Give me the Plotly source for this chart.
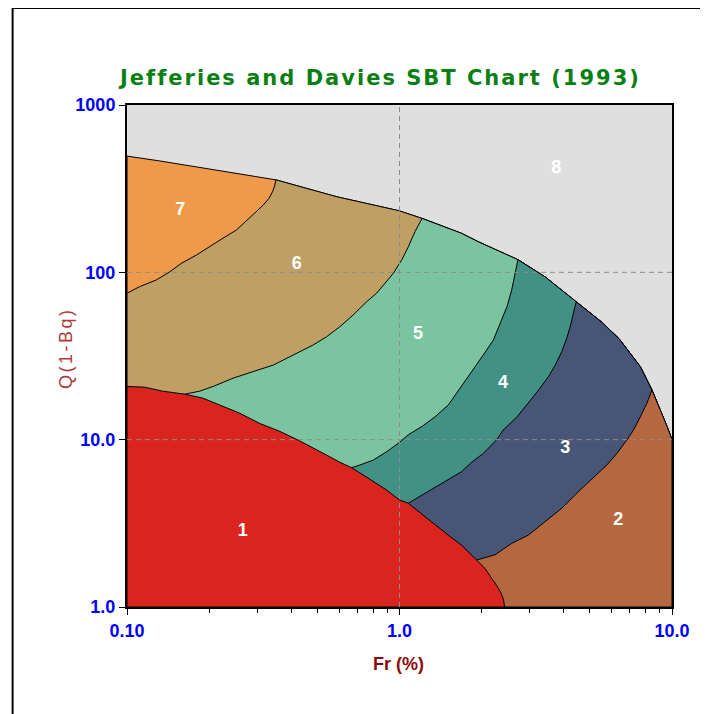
import plotly.graph_objects as go

# ---- data (Fr in %, Q(1-Bq)) ----
# upper limit of the chart (boundary with zone 8)
outer_fr = [0.1, 0.132, 0.219, 0.352, 0.588, 1.0, 1.21, 1.69, 1.95, 2.24, 2.72, 3.42, 4.45,
            5.57, 6.40, 7.65, 8.44, 9.06, 9.59, 10.0]
outer_q = [495, 463, 405, 357, 283, 233, 210, 171, 152, 137, 119, 94, 66.7,
           49.8, 40.0, 27.3, 19.8, 15.0, 12.0, 10.0]

# zone 7 / zone 6
b76_fr = [0.352, 0.348, 0.342, 0.332, 0.316, 0.294, 0.275, 0.252, 0.225, 0.201, 0.180, 0.158,
          0.144, 0.128, 0.111, 0.1]
b76_q = [357, 328, 303, 277, 252, 225, 204, 179, 160, 142, 127, 113, 101, 90, 82, 75]

# zone 6 / zone 5
b65_fr = [1.21, 1.14, 1.077, 1.02, 0.949, 0.897, 0.824, 0.758, 0.676, 0.604, 0.540, 0.482,
          0.419, 0.344, 0.290, 0.245, 0.207, 0.185, 0.163]
b65_q = [210, 175, 142, 119, 98.6, 88, 75, 66.8, 55.6, 47.3, 41.2, 36.8,
         32.8, 27.9, 25.5, 23.3, 20.8, 19.5, 18.7]

# zone 5 / zone 4
b54_fr = [2.72, 2.67, 2.62, 2.58, 2.48, 2.34, 2.21, 2.03, 1.82, 1.69, 1.51, 1.35,
          1.21, 1.077, 1.0, 0.897, 0.801, 0.716, 0.667]
b54_q = [119, 103, 85.9, 78.3, 62.4, 49.5, 39.4, 32.1, 24.9, 21.2, 16.1, 13.7,
         12.0, 10.7, 9.64, 8.47, 7.55, 7.06, 6.80]

# zone 4 / zone 3
b43_fr = [4.45, 4.35, 4.23, 4.11, 3.94, 3.73, 3.52, 3.24, 2.97, 2.70, 2.40, 2.27, 2.03, 1.82,
          1.69, 1.47, 1.28, 1.077]
b43_q = [66.7, 56.9, 47.3, 40.4, 33.6, 27.9, 23.8, 19.8, 16.5, 13.7, 11.4, 9.96, 8.28, 7.22,
         6.44, 5.61, 4.89, 4.17]

# zone 3 / zone 2
b32_fr = [8.44, 8.09, 7.65, 7.22, 6.83, 6.28, 5.77, 4.67, 3.94, 3.42, 2.97, 2.58, 2.24, 1.92]
b32_q = [19.8, 16.5, 13.7, 11.4, 9.96, 8.28, 7.06, 5.12, 3.89, 3.24, 2.69, 2.40, 2.05, 1.91]

# upper limit of zone 1
b1_fr = [0.1, 0.116, 0.135, 0.163, 0.190, 0.219, 0.259, 0.307, 0.364, 0.431, 0.482, 0.540,
         0.604, 0.667, 0.736, 0.801, 0.897, 1.0, 1.077, 1.21, 1.35, 1.51, 1.69, 1.92, 2.06,
         2.18, 2.27, 2.36, 2.41, 2.43]
b1_q = [20.8, 20.6, 19.5, 18.7, 17.7, 16.1, 14.4, 12.5, 11.2, 9.82, 8.87, 8.09,
        7.33, 6.80, 6.15, 5.61, 5.00, 4.36, 4.17, 3.58, 3.09, 2.69, 2.34, 1.91, 1.70,
        1.48, 1.35, 1.21, 1.10, 1.0]

zone_names = ["1", "2", "3", "4", "5", "6", "7", "8"]
label_fr = [0.266, 6.35, 4.06, 2.40, 1.17, 0.420, 0.157, 3.76]
label_q = [2.81, 3.27, 8.9, 21.8, 42.8, 111, 233, 415]

zone_colors = {
    "1": "#D9251D", "2": "#B5673F", "3": "#475677", "4": "#419184",
    "5": "#7AC49F", "6": "#BF9F63", "7": "#EF9A4A", "8": "#DFDFDF",
}

x_tickvals = [0.1, 1, 10]
x_ticktext = ["0.10", "1.0", "10.0"]
x_minor = [0.2, 0.3, 0.4, 0.5, 0.6, 0.7, 0.8, 0.9, 2, 3, 4, 5, 6, 7, 8, 9]
y_tickvals = [1, 10, 100, 1000]
y_ticktext = ["1.0", "10.0", "100", "1000"]

XMIN, XMAX, YMIN, YMAX = 0.1, 10.0, 1.0, 1000.0

fig = go.Figure()


def add_poly(xs, ys, color):
    fig.add_trace(go.Scatter(
        x=xs + [xs[0]], y=ys + [ys[0]], mode="lines", fill="toself",
        fillcolor=color, line=dict(color="black", width=1),
        hoverinfo="skip", showlegend=False))


def layer(bfr, bq):
    # region to the right of / below a boundary, down to the bottom axis
    ofr = [f for f in outer_fr if f >= bfr[0]][::-1]
    oq = [q for f, q in zip(outer_fr, outer_q) if f >= bfr[0]][::-1]
    xs = list(bfr) + [bfr[-1], XMAX] + ofr
    ys = list(bq) + [YMIN, YMIN] + oq
    return xs, ys


# zone 7 : whole area below the outer boundary
add_poly(list(outer_fr) + [XMAX, XMIN], list(outer_q) + [YMIN, YMIN], zone_colors["7"])
for bfr, bq, z in [(b76_fr, b76_q, "6"), (b65_fr, b65_q, "5"), (b54_fr, b54_q, "4"),
                   (b43_fr, b43_q, "3"), (b32_fr, b32_q, "2")]:
    xs, ys = layer(bfr, bq)
    add_poly(xs, ys, zone_colors[z])
# zone 1
add_poly([XMIN] + b1_fr, [YMIN] + b1_q, zone_colors["1"])

# dashed grid lines at the inner major ticks, drawn over the zones
gx, gy = [], []
for v in x_tickvals[1:-1]:
    gx += [v, v, None]
    gy += [YMIN, YMAX, None]
for v in y_tickvals[1:-1]:
    gx += [XMIN, XMAX, None]
    gy += [v, v, None]
fig.add_trace(go.Scatter(x=gx, y=gy, mode="lines",
                         line=dict(color="#8C8C8C", width=1, dash="5px,4px"),
                         hoverinfo="skip", showlegend=False))

fig.add_trace(go.Scatter(
    x=label_fr, y=label_q, mode="text", text=zone_names,
    textfont=dict(family="Liberation Sans", size=18, color="white", weight="bold"),
    hoverinfo="skip", showlegend=False))

axis_common = dict(
    type="log", showline=True, mirror=True, linecolor="black", linewidth=2,
    ticks="outside", tickcolor="black", tickwidth=1, ticklen=6,
    showgrid=False, zeroline=False, layer="above traces",
    tickfont=dict(family="Liberation Sans", size=18, color="#0000FF", weight="bold"),
)

fig.update_xaxes(
    range=[-1, 1], tickmode="array", tickvals=x_tickvals, ticktext=x_ticktext,
    minor=dict(tickmode="array", tickvals=x_minor, ticks="outside", ticklen=4,
               tickcolor="black", tickwidth=1, showgrid=False),
    **axis_common)
fig.update_yaxes(
    range=[0, 3], tickmode="array", tickvals=y_tickvals, ticktext=y_ticktext,
    **axis_common)

fig.update_layout(
    width=708, height=714,
    margin=dict(l=119, r=44, t=97, b=115),
    paper_bgcolor="white", plot_bgcolor=zone_colors["8"],
    annotations=[
        dict(text='<span style="letter-spacing:2px">Jefferies and Davies SBT Chart (1993)</span>',
             xref="paper", yref="paper", x=0.464, y=1.054, xanchor="center", yanchor="middle",
             showarrow=False,
             font=dict(family="DejaVu Sans", size=21, color="#0A8014", weight="bold")),
        dict(text="Fr (%)", xref="paper", yref="paper", x=0.499, y=-0.1135,
             xanchor="center", yanchor="middle", showarrow=False,
             font=dict(family="Liberation Sans", size=18, color="#8B0A0A", weight="bold")),
        dict(text='<span style="letter-spacing:2.5px">Q(1-Bq)</span>', xref="paper", yref="paper",
             x=-0.112, y=0.516, xanchor="center", yanchor="middle", textangle=-90,
             showarrow=False,
             font=dict(family="Liberation Sans", size=18, color="#B03A3A")),
    ],
    shapes=[dict(type="rect", xref="paper", yref="paper", x0=-0.2099, x1=1.3,
                 y0=-0.4, y1=1.1932, line=dict(color="black", width=2),
                 fillcolor="rgba(0,0,0,0)", layer="above")],
)

fig.write_html("out.html", config={"displayModeBar": False})
